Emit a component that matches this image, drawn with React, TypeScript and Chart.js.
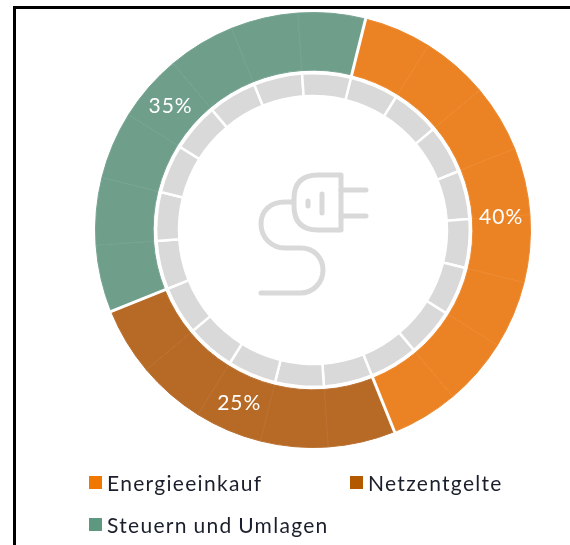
import React, { useEffect, useRef } from "react";
import { Chart, registerables } from "chart.js";

Chart.register(...registerables);

const categories = ["Energieeinkauf", "Netzentgelte", "Steuern und Umlagen"];
const shares = [40, 25, 35];
const shareLabels = ["40%", "25%", "35%"];
const segmentCounts = [8, 5, 7];
const ringSegments = [5, 5, 5, 5, 5, 5, 5, 5, 5, 5, 5, 5, 5, 5, 5, 5, 5, 5, 5, 5];
const fillColors = ["#EB8325", "#B76A25", "#6F9F8B"];
const dividerColors = ["#ED8A30", "#BA7030", "#76A492"];
const legendColors = ["#F07800", "#B35900", "#5F9880"];

const FONT = 'Lato, "Noto Sans", sans-serif';

const segmentOwner: number[] = segmentCounts.flatMap((n, i) => Array(n).fill(i));

const overlayPlugin = {
  id: "overlay",
  afterDatasetsDraw(chart: any) {
    const ctx = chart.ctx;
    const arcs = chart.getDatasetMeta(0).data;
    ctx.save();
    ctx.strokeStyle = "#fff";
    ctx.lineWidth = 3;
    arcs.forEach((a: any, i: number) => {
      const prev = segmentOwner[(i + arcs.length - 1) % arcs.length];
      if (prev === segmentOwner[i]) return;
      ctx.beginPath();
      ctx.moveTo(a.x + (a.innerRadius - 2) * Math.cos(a.startAngle), a.y + (a.innerRadius - 2) * Math.sin(a.startAngle));
      ctx.lineTo(a.x + (a.outerRadius + 2) * Math.cos(a.startAngle), a.y + (a.outerRadius + 2) * Math.sin(a.startAngle));
      ctx.stroke();
    });
    ctx.fillStyle = "#fff";
    ctx.font = `21px ${FONT}`;
    ctx.textAlign = "center";
    ctx.textBaseline = "middle";
    (ctx as any).letterSpacing = "1px";
    shareLabels.forEach((label, s) => {
      const idx = segmentOwner.map((o, i) => (o === s ? i : -1)).filter((i) => i >= 0);
      const first = arcs[idx[0]];
      const last = arcs[idx[idx.length - 1]];
      const mid = (first.startAngle + last.endAngle) / 2;
      const r = (first.innerRadius + first.outerRadius) / 2;
      ctx.fillText(label, first.x + r * Math.cos(mid), first.y + r * Math.sin(mid));
    });
    (ctx as any).letterSpacing = "0px";
    ctx.strokeStyle = "#D9D9D9";
    ctx.lineWidth = 5;
    ctx.lineCap = "round";
    ctx.lineJoin = "round";
    ctx.filter = "blur(0.7px)";
    const body = new Path2D("M341 175 L318 175 Q294 175 294 199 L294 206 Q294 230 318 230 L341 230 Z");
    const prongs = new Path2D("M341 190 L366 190 M341 216 L366 216");
    const marks = new Path2D("M308 201 L308 206 M322 194 L322 213");
    const cord = new Path2D("M293 202 L285 202 C270 202 261 211 261 224 C261 238 272 248 285 248 L301 248 C314 248 323 258 323 270 C323 283 313 293 300 293 L261 293");
    ctx.stroke(body);
    ctx.stroke(prongs);
    ctx.stroke(marks);
    ctx.stroke(cord);
    ctx.restore();
  },
};

export default function App() {
  const canvasRef = useRef<HTMLCanvasElement>(null);

  useEffect(() => {
    const chart = new Chart(canvasRef.current!, {
      type: "doughnut",
      data: {
        labels: ringSegments.map((_, i) => categories[segmentOwner[i]]),
        datasets: [
          {
            data: ringSegments,
            backgroundColor: segmentOwner.map((o) => fillColors[o]),
            borderColor: segmentOwner.map((o) => dividerColors[o]),
            borderWidth: 1,
            weight: 58,
          },
          {
            data: [1],
            backgroundColor: "rgba(0,0,0,0)",
            borderWidth: 0,
            weight: 3,
          },
          {
            data: ringSegments,
            backgroundColor: "#D9D9D9",
            borderColor: "#fff",
            borderWidth: 2.5,
            weight: 23,
          },
        ],
      },
      options: {
        responsive: false,
        animation: false,
        rotation: 14,
        cutout: 134,
        layout: { padding: { left: 95, right: 39, top: 12, bottom: 97 } },
        plugins: { legend: { display: false }, tooltip: { enabled: false } },
      } as any,
      plugins: [overlayPlugin],
    });
    return () => chart.destroy();
  }, []);

  const legendPos = [
    { left: 89, top: 469 },
    { left: 350, top: 469 },
    { left: 89, top: 511 },
  ];

  return (
    <div style={{ position: "absolute", left: 0, top: 0, width: 570, height: 545, overflow: "hidden", background: "#fff" }}>
      <canvas ref={canvasRef} width={570} height={545} style={{ position: "absolute", left: 0, top: 0 }} />
      <div style={{ position: "absolute", left: 13, top: 6, width: 557, height: 3, background: "#000" }} />
      <div style={{ position: "absolute", left: 13, top: 6, width: 3, height: 539, background: "#000" }} />
      {categories.map((c, i) => (
        <div
          key={c}
          style={{ position: "absolute", left: legendPos[i].left, top: legendPos[i].top, height: 26, display: "flex", alignItems: "center", fontFamily: FONT, fontSize: 21, letterSpacing: 1.3, wordSpacing: -1, color: "#1A1F2B", whiteSpace: "nowrap" }}
        >
          <span style={{ display: "inline-block", width: 13, height: 13, background: legendColors[i], marginRight: 5 }} />
          {c}
        </div>
      ))}
    </div>
  );
}
